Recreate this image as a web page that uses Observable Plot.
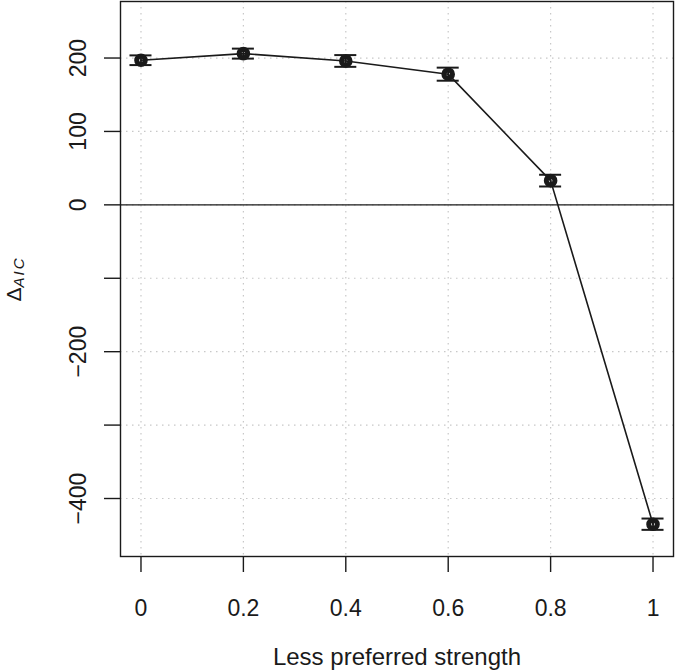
<!DOCTYPE html>
<html>
<head>
<meta charset="utf-8">
<script src="https://cdn.jsdelivr.net/npm/d3@7"></script>
<script src="https://cdn.jsdelivr.net/npm/@observablehq/plot@0.6"></script>
<style>
  html, body { margin: 0; padding: 0; background: #fff; }
  #chart { width: 675px; height: 672px; }
  svg { display: block; }
</style>
</head>
<body>
<div id="chart"></div>
<script>
// Data
const strength = [0, 0.2, 0.4, 0.6, 0.8, 1];
const deltaAIC = [197, 206, 196, 178, 33, -435];
const errAIC = [6.6, 6.8, 8.0, 8.9, 8.0, 7.7];
const xTicks = [0, 0.2, 0.4, 0.6, 0.8, 1];
const xTickLabels = ["0", "0.2", "0.4", "0.6", "0.8", "1"];
const yTicks = [200, 100, 0, -100, -200, -300, -400];
const yTickLabels = ["200", "100", "0", "", "\u2212200", "", "\u2212400"];

const data = strength.map((s, i) => ({x: s, y: deltaAIC[i], lo: deltaAIC[i] - errAIC[i], hi: deltaAIC[i] + errAIC[i]}));
const capHalf = 0.0215;
const font = "'Liberation Sans', Arial, Helvetica, sans-serif";
const ink = "#1a1a1a";

const chart = Plot.plot({
  width: 675,
  height: 672,
  marginLeft: 120,
  marginRight: 2,
  marginTop: 1,
  marginBottom: 116,
  style: {fontFamily: font, fontSize: "23px", color: ink, background: "#fff"},
  x: {domain: [-0.04, 1.04]},
  y: {domain: [-479, 277]},
  marks: [
    Plot.gridX(xTicks, {stroke: "#c8c8c8", strokeOpacity: 1, strokeDasharray: "1.5,4.5", strokeWidth: 1.2}),
    Plot.gridY(yTicks, {stroke: "#c8c8c8", strokeOpacity: 1, strokeDasharray: "1.5,4.5", strokeWidth: 1.2}),
    Plot.ruleY([0], {stroke: ink, strokeWidth: 1.4}),
    Plot.line(data, {x: "x", y: "y", stroke: ink, strokeWidth: 1.6}),
    Plot.ruleX(data, {x: "x", y1: "lo", y2: "hi", stroke: ink, strokeWidth: 1.8}),
    Plot.ruleY(data, {y: "lo", x1: d => d.x - capHalf, x2: d => d.x + capHalf, stroke: ink, strokeWidth: 2}),
    Plot.ruleY(data, {y: "hi", x1: d => d.x - capHalf, x2: d => d.x + capHalf, stroke: ink, strokeWidth: 2}),
    Plot.dot(data, {x: "x", y: "y", r: 4.3, fill: "none", stroke: ink, strokeWidth: 5}),
    Plot.frame({stroke: ink, strokeWidth: 1.4}),
    Plot.axisX({ticks: xTicks, tickFormat: (d, i) => xTickLabels[xTicks.indexOf(d)], tickSize: 16, tickPadding: 27, label: null, stroke: ink, strokeWidth: 1.4, fontSize: 23}),
    Plot.axisY({ticks: yTicks, tickFormat: d => yTickLabels[yTicks.indexOf(d)], tickSize: 16, tickPadding: 19, tickRotate: -90, label: null, stroke: ink, strokeWidth: 1.4, fontSize: 23})
  ]
});

const svg = d3.select(chart);
// x-axis title
svg.append("text")
  .attr("x", 397)
  .attr("y", 665)
  .attr("text-anchor", "middle")
  .attr("font-family", font)
  .attr("font-size", 24)
  .attr("fill", ink)
  .text("Less preferred strength");

// y-axis title: Δ with italic subscript AIC
const yl = svg.append("text")
  .attr("transform", "translate(21,279) rotate(-90)")
  .attr("text-anchor", "middle")
  .attr("font-family", font)
  .attr("fill", ink);
yl.append("tspan").attr("font-size", 21).text("\u0394");
yl.append("tspan").attr("font-size", 15).attr("font-style", "italic").attr("dy", 3).attr("letter-spacing", 2).text("AIC");

document.getElementById("chart").appendChild(chart);
</script>
</body>
</html>
